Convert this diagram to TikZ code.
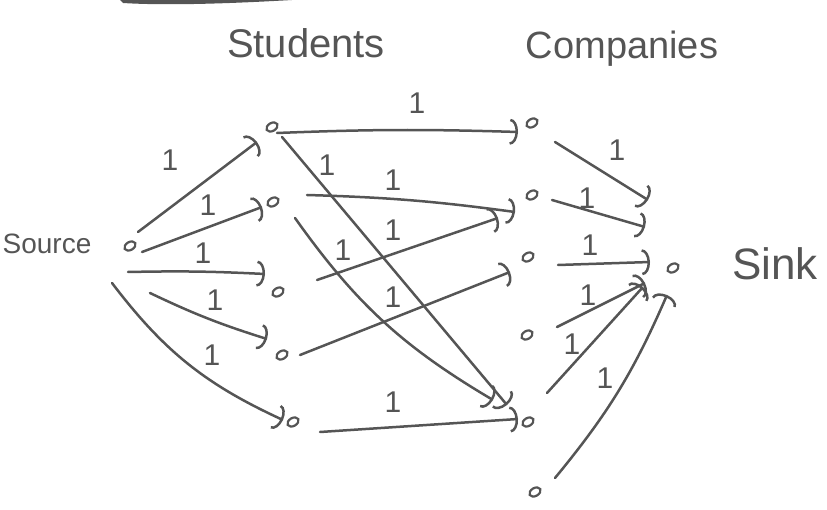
\documentclass[tikz,border=0pt]{standalone}
\usepackage{fontspec}
\setmainfont{Liberation Sans}
\usetikzlibrary{arrows.meta,shapes.geometric}
\definecolor{ink}{RGB}{85,85,85}
\begin{document}
\begin{tikzpicture}[x=1pt,y=-1pt,
  vtx/.style={ellipse,draw=ink,line width=2.2pt,minimum width=12pt,minimum height=8pt,inner sep=0pt,rotate=30},
  flow/.style={draw=ink,line width=2.5pt,line cap=round,
    -{Arc Barb[length=8pt,width=26pt,line width=2.5pt]}},
  heading/.style={text=ink,inner sep=0pt},
  unit/.style={text=ink,inner sep=0pt,font=\fontsize{30}{30}\selectfont}]
\useasboundingbox (0,0) rectangle (827,510);

% leftover pencil stroke along the top edge
\fill[ink] (120,0) -- (292,0) .. controls (240,3) and (170,6) .. (123,3) -- cycle;

% headings
\node[heading,font=\fontsize{28}{28}\selectfont] (tsrc) at (47,244) {Source};
\node[heading,font=\fontsize{40}{40}\selectfont] (tstu) at (306,43) {Students};
\node[heading,font=\fontsize{38}{38}\selectfont] (tcom) at (622,49) {Companies};
\node[heading,font=\fontsize{44}{44}\selectfont] (tsnk) at (775,264) {Sink};

% vertices
\node[vtx] (src) at (130,246) {};
\node[vtx] (s1) at (272,127) {};
\node[vtx] (s2) at (273,202) {};
\node[vtx] (s3) at (278,292) {};
\node[vtx] (s4) at (282,355) {};
\node[vtx] (s5) at (293,422) {};
\node[vtx] (c1) at (532,123) {};
\node[vtx] (c2) at (532,195) {};
\node[vtx] (c3) at (528,257) {};
\node[vtx] (c4) at (527,335) {};
\node[vtx] (c5) at (528,422) {};
\node[vtx] (c6) at (535,492) {};
\node[vtx] (snk) at (673,268) {};

% source to students
\draw[flow] ([shift={(8,-14)}]src.center) -- ([shift={(-15,15)}]s1.center);
\draw[flow] ([shift={(12,6)}]src.center) -- ([shift={(-11,5)}]s2.center);
\draw[flow] ([shift={(-2,26)}]src.center) to[bend left=2] ([shift={(-13,-18)}]s3.center);
\draw[flow] ([shift={(20,47)}]src.center) to[bend right=4] ([shift={(-15,-16)}]s4.center);
\draw[flow] ([shift={(-18,37)}]src.center) to[bend right=14] ([shift={(-10,-2)}]s5.center);

% students to companies
\draw[flow] ([shift={(5,6)}]s1.center) to[bend left=2] ([shift={(-14,9)}]c1.center);
\draw[flow] ([shift={(10,10)}]s1.center) -- ([shift={(-21,-17)}]c5.center);
\draw[flow] ([shift={(34,-7)}]s2.center) to[bend left=3] ([shift={(-17,17)}]c2.center);
\draw[flow] ([shift={(22,16)}]s2.center) to[bend right=12] ([shift={(-35,-22)}]c5.center);
\draw[flow] ([shift={(39,-12)}]s3.center) -- ([shift={(-34,23)}]c2.center);
\draw[flow] ([shift={(18,0)}]s4.center) -- ([shift={(-18,15)}]c3.center);
\draw[flow] ([shift={(27,10)}]s5.center) -- ([shift={(-10,-3)}]c5.center);

% companies to sink
\draw[flow] ([shift={(23,19)}]c1.center) -- ([shift={(-25,-68)}]snk.center);
\draw[flow] ([shift={(20,5)}]c2.center) -- ([shift={(-28,-41)}]snk.center);
\draw[flow] ([shift={(30,8)}]c3.center) -- ([shift={(-23,-6)}]snk.center);
\draw[flow] ([shift={(30,-8)}]c4.center) -- ([shift={(-28,15)}]snk.center);
\draw[flow] ([shift={(19,-29)}]c5.center) -- ([shift={(-30,19)}]snk.center);
\draw[flow] ([shift={(20,-14)}]c6.center) to[bend right=8] ([shift={(-6,27)}]snk.center);

% capacities
\node[unit] (k1) at (170,160) {1};
\node[unit] (k2) at (208,205) {1};
\node[unit] (k3) at (203,253) {1};
\node[unit] (k4) at (215,300) {1};
\node[unit] (k5) at (212,355) {1};
\node[unit] (k6) at (417,103) {1};
\node[unit] (k7) at (327,165) {1};
\node[unit] (k8) at (393,180) {1};
\node[unit] (k9) at (393,230) {1};
\node[unit] (k10) at (343,250) {1};
\node[unit] (k11) at (393,297) {1};
\node[unit] (k12) at (393,402) {1};
\node[unit] (k13) at (617,150) {1};
\node[unit] (k14) at (587,198) {1};
\node[unit] (k15) at (590,245) {1};
\node[unit] (k16) at (588,295) {1};
\node[unit] (k17) at (572,344) {1};
\node[unit] (k18) at (605,378) {1};
\end{tikzpicture}
\end{document}
